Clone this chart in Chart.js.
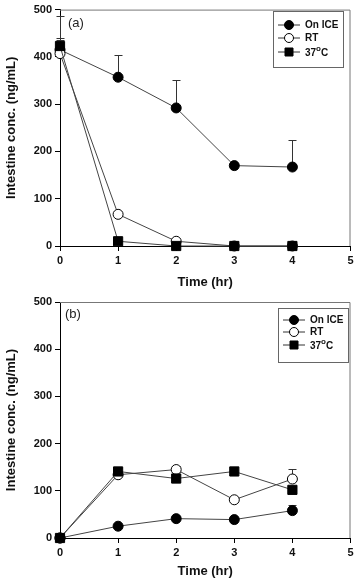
<!DOCTYPE html>
<html><head><meta charset="utf-8">
<script src="https://cdn.jsdelivr.net/npm/chart.js@4.4.0/dist/chart.umd.min.js"></script>
<style>
body{margin:0;background:#fff;}
canvas{display:block;}
</style></head><body>
<canvas id="chartA" width="358" height="290"></canvas>
<canvas id="chartB" width="358" height="289"></canvas>
<script>
const times = [0, 1, 2, 3, 4];
const seriesNames = ['On ICE', 'RT', '37', 'C'];
const xTicks = [0, 1, 2, 3, 4, 5];
const yTicks = [0, 100, 200, 300, 400, 500];

// panel (a)
const iceA = [415, 357, 292, 170, 167];
const iceErrA = [72, 47, 59, 0, 57];
const rtA = [407, 67, 10, 0, 0];
const rtErrA = [33, 0, 0, 0, 0];
const hotA = [423, 10, 0, 0, 0];
const hotErrA = [12, 0, 0, 0, 0];

// panel (b)
const iceB = [0, 25, 41, 39, 58];
const iceErrB = [0, 0, 0, 0, 12];
const rtB = [0, 134, 145, 81, 125];
const rtErrB = [0, 0, 7, 0, 21];
const hotB = [0, 141, 126, 141, 102];
const hotErrB = [0, 7, 0, 0, 0];

Chart.defaults.font.family = "'Liberation Sans', Arial, sans-serif";
Chart.defaults.color = '#111';

const errorBars = {
    id: 'errorBars',
    beforeDatasetsDraw(chart) {
        const ctx = chart.ctx;
        const xs = chart.scales.x, ys = chart.scales.y;
        ctx.save();
        ctx.strokeStyle = '#333';
        ctx.lineWidth = 1;
        chart.data.datasets.forEach(ds => {
            ds.errors.forEach((e, i) => {
                if (!e) return;
                const px = Math.round(xs.getPixelForValue(ds.data[i].x)) + 0.5;
                const y0 = ys.getPixelForValue(ds.data[i].y);
                const y1 = ys.getPixelForValue(ds.data[i].y + e);
                ctx.beginPath();
                ctx.moveTo(px, y0);
                ctx.lineTo(px, y1);
                ctx.moveTo(px - 4, Math.round(y1) + 0.5);
                ctx.lineTo(px + 4, Math.round(y1) + 0.5);
                ctx.stroke();
            });
        });
        ctx.restore();
    }
};

const boxFrame = {
    id: 'boxFrame',
    afterDraw(chart, args, opts) {
        const ctx = chart.ctx;
        const a = chart.chartArea;
        ctx.save();
        ctx.strokeStyle = '#777';
        ctx.lineWidth = 1;
        ctx.beginPath();
        ctx.moveTo(a.left, a.top + 0.5);
        ctx.lineTo(a.right - 0.5, a.top + 0.5);
        ctx.lineTo(a.right - 0.5, a.bottom);
        ctx.stroke();

        // panel label
        ctx.fillStyle = '#222';
        ctx.font = "13px 'Liberation Sans', Arial, sans-serif";
        ctx.textBaseline = 'middle';
        ctx.fillText(opts.label, opts.labelX, opts.labelY);

        // legend box
        const L = opts.legend;
        ctx.strokeStyle = '#666';
        ctx.strokeRect(L.x + 0.5, L.y + 0.5, L.w, L.h);
        chart.data.datasets.forEach((ds, i) => {
            const y = L.rowY[i];
            ctx.strokeStyle = '#333';
            ctx.beginPath();
            ctx.moveTo(L.x + 5, y);
            ctx.lineTo(L.x + 27, y);
            ctx.stroke();
            ctx.fillStyle = ds.pointBackgroundColor;
            ctx.strokeStyle = '#000';
            ctx.beginPath();
            if (ds.pointStyle === 'rect') {
                ctx.rect(L.x + 12, y - 4, 8, 8);
            } else {
                ctx.arc(L.x + 16, y, 4.5, 0, Math.PI * 2);
            }
            ctx.fill();
            ctx.stroke();
            ctx.fillStyle = '#111';
            ctx.font = "bold 10px 'Liberation Sans', Arial, sans-serif";
            ctx.textBaseline = 'middle';
            const tx = L.x + 32;
            if (i < 2) {
                ctx.fillText(seriesNames[i], tx, y);
            } else {
                ctx.fillText(seriesNames[2], tx, y + 1);
                const w = ctx.measureText(seriesNames[2]).width;
                ctx.font = "bold 8px 'Liberation Sans', Arial, sans-serif";
                ctx.fillText('o', tx + w, y - 3);
                const w2 = ctx.measureText('o').width;
                ctx.font = "bold 10px 'Liberation Sans', Arial, sans-serif";
                ctx.fillText(seriesNames[3], tx + w + w2, y + 1);
            }
        });
        ctx.restore();
    }
};

function pts(vals) {
    return vals.map((v, i) => ({ x: times[i], y: v }));
}

function makeChart(id, ice, iceErr, rt, rtErr, hot, hotErr, frame, pad, xHeight) {
    const ds = (data, errors, style, fill, r, order) => ({
        data: pts(data),
        errors: errors,
        order: order,
        borderColor: '#444',
        borderWidth: 1,
        pointStyle: style,
        pointRadius: r,
        pointBackgroundColor: fill,
        pointBorderColor: '#000',
        pointBorderWidth: 1,
        clip: false
    });
    return new Chart(document.getElementById(id), {
        type: 'line',
        data: {
            datasets: [
                ds(ice, iceErr, 'circle', '#000', 5, 3),
                ds(rt, rtErr, 'circle', '#fff', 5, 2),
                ds(hot, hotErr, 'rect', '#000', 6.5, 1)
            ]
        },
        options: {
            responsive: false,
            animation: false,
            devicePixelRatio: 1,
            layout: { padding: pad },
            plugins: { legend: { display: false }, tooltip: { enabled: false }, boxFrame: frame },
            scales: {
                x: {
                    type: 'linear', min: 0, max: 5,
                    afterBuildTicks: s => { s.ticks = xTicks.map(v => ({ value: v })); },
                    ticks: { padding: 3, font: { size: 11, weight: 'bold' }, color: '#111' },
                    grid: { drawOnChartArea: false, tickLength: 5, color: '#000' },
                    border: { color: '#000' },
                    title: { display: true, text: 'Time (hr)', font: { size: 13, weight: 'bold' }, color: '#111', padding: { top: 6, bottom: 0 } },
                    afterFit: s => { s.height = xHeight; }
                },
                y: {
                    min: 0, max: 500,
                    afterBuildTicks: s => { s.ticks = yTicks.map(v => ({ value: v })); },
                    ticks: { padding: 3, font: { size: 11, weight: 'bold' }, color: '#111' },
                    grid: { drawOnChartArea: false, tickLength: 5, color: '#000' },
                    border: { color: '#000' },
                    title: { display: true, text: 'Intestine conc. (ng/mL)', font: { size: 13, weight: 'bold' }, color: '#111', padding: { top: 4, bottom: 4 } },
                    afterFit: s => { s.width = 60; }
                }
            }
        },
        plugins: [errorBars, boxFrame]
    });
}

makeChart('chartA', iceA, iceErrA, rtA, rtErrA, hotA, hotErrA,
    { label: '(a)', labelX: 68, labelY: 23, legend: { x: 273, y: 11, w: 70, h: 56, rowY: [25, 38, 52] } },
    { top: 5, right: 7, left: 0, bottom: 0 }, 44);

makeChart('chartB', iceB, iceErrB, rtB, rtErrB, hotB, hotErrB,
    { label: '(b)', labelX: 65, labelY: 24, legend: { x: 278, y: 18, w: 70, h: 54, rowY: [30, 42, 55] } },
    { top: 12, right: 7, left: 0, bottom: 0 }, 41);
</script>
</body></html>
